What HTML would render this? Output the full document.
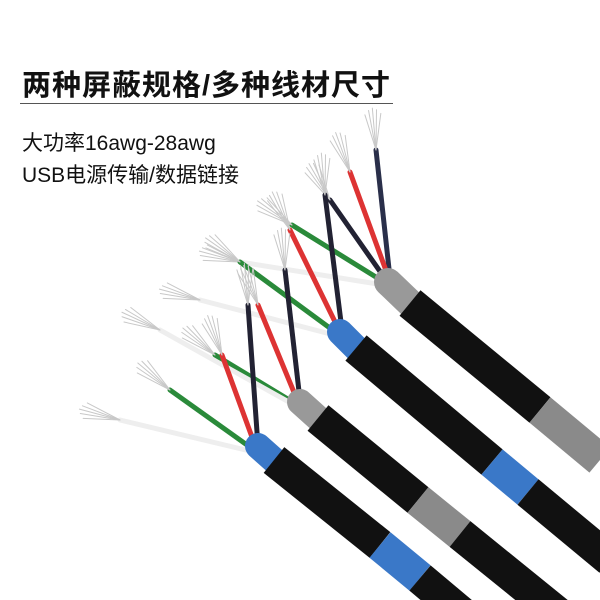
<!DOCTYPE html>
<html><head><meta charset="utf-8"><style>
body{margin:0;width:600px;height:600px;background:#fff;overflow:hidden;position:relative;font-family:"Liberation Sans","Noto Sans CJK SC",sans-serif}
.t{position:absolute;left:22px;color:#111;white-space:nowrap}
</style></head><body>
<svg width="600" height="600" style="position:absolute;left:0;top:0" stroke-linecap="round">
<defs>
<g id="tuft" stroke="#c8c8c8" stroke-width="1" fill="none">
<line x1="0" y1="0" x2="-4" y2="-40"/><line x1="0" y1="0" x2="0" y2="-42"/><line x1="0" y1="0" x2="4" y2="-40"/><line x1="0" y1="0" x2="-8" y2="-36"/><line x1="0" y1="0" x2="8" y2="-36"/>
</g>
</defs>
<g>
<path d="M390 278 L376 150" stroke="#2a2f4a" stroke-width="5"/>
<path d="M388 276 L350 172" stroke="#d33" stroke-width="5"/>
<path d="M386 280 L330 200" stroke="#223" stroke-width="5"/>
<path d="M384 282 L292 225" stroke="#2a8a3a" stroke-width="5"/>
<path d="M384 285 L240 262" stroke="#eee" stroke-width="5"/>
<use href="#tuft" transform="translate(376,150) rotate(-5)"/>
<use href="#tuft" transform="translate(350,172) rotate(-20)"/>
<use href="#tuft" transform="translate(330,200) rotate(-30)"/>
<use href="#tuft" transform="translate(292,225) rotate(-55)"/>
<use href="#tuft" transform="translate(240,262) rotate(-75)"/>
<path d="M388 282 L412 305" stroke="#999" stroke-width="28"/>
<path d="M410 303 L540 410" stroke="#111" stroke-width="33" stroke-linecap="butt"/>
<path d="M540 410 L600 460" stroke="#8a8a8a" stroke-width="33" stroke-linecap="butt"/>
</g>
<g>
<path d="M342 330 L325 195" stroke="#223" stroke-width="5"/>
<path d="M340 332 L290 230" stroke="#d33" stroke-width="5"/>
<path d="M338 334 L240 262" stroke="#2a8a3a" stroke-width="5"/>
<path d="M338 336 L200 300" stroke="#eee" stroke-width="5"/>
<use href="#tuft" transform="translate(325,195) rotate(-5)"/>
<use href="#tuft" transform="translate(290,230) rotate(-25)"/>
<use href="#tuft" transform="translate(240,262) rotate(-55)"/>
<use href="#tuft" transform="translate(200,300) rotate(-75)"/>
<path d="M340 332 L358 350" stroke="#3a78c8" stroke-width="26"/>
<path d="M356 348 L492 462" stroke="#111" stroke-width="33" stroke-linecap="butt"/>
<path d="M492 462 L528 492" stroke="#3a78c8" stroke-width="33" stroke-linecap="butt"/>
<path d="M528 492 L610 560" stroke="#111" stroke-width="33" stroke-linecap="butt"/>
</g>
<g>
<path d="M300 400 L285 270" stroke="#223" stroke-width="5"/>
<path d="M298 402 L258 305" stroke="#d33" stroke-width="5"/>
<path d="M296 404 L215 355" stroke="#2a8a3a" stroke-width="5"/>
<path d="M296 406 L160 330" stroke="#eee" stroke-width="5"/>
<use href="#tuft" transform="translate(285,270) rotate(-5)"/>
<use href="#tuft" transform="translate(258,305) rotate(-20)"/>
<use href="#tuft" transform="translate(215,355) rotate(-50)"/>
<use href="#tuft" transform="translate(160,330) rotate(-65)"/>
<path d="M300 402 L320 420" stroke="#999" stroke-width="26"/>
<path d="M318 418 L418 500" stroke="#111" stroke-width="33" stroke-linecap="butt"/>
<path d="M418 500 L460 534" stroke="#8a8a8a" stroke-width="33" stroke-linecap="butt"/>
<path d="M460 534 L560 615" stroke="#111" stroke-width="33" stroke-linecap="butt"/>
</g>
<g>
<path d="M258 446 L248 305" stroke="#223" stroke-width="5"/>
<path d="M256 448 L222 355" stroke="#d33" stroke-width="5"/>
<path d="M254 450 L170 390" stroke="#2a8a3a" stroke-width="5"/>
<path d="M254 452 L120 420" stroke="#eee" stroke-width="5"/>
<use href="#tuft" transform="translate(248,305) rotate(-5)"/>
<use href="#tuft" transform="translate(222,355) rotate(-20)"/>
<use href="#tuft" transform="translate(170,390) rotate(-50)"/>
<use href="#tuft" transform="translate(120,420) rotate(-75)"/>
<path d="M258 446 L276 462" stroke="#3a78c8" stroke-width="26"/>
<path d="M274 460 L380 545" stroke="#111" stroke-width="33" stroke-linecap="butt"/>
<path d="M380 545 L420 578" stroke="#3a78c8" stroke-width="33" stroke-linecap="butt"/>
<path d="M420 578 L470 620" stroke="#111" stroke-width="33" stroke-linecap="butt"/>
</g>
</svg>
<div class="t" style="top:62px;font-size:29px;font-weight:bold;letter-spacing:1px">两种屏蔽规格/多种线材尺寸</div>
<div style="position:absolute;left:20px;top:103px;width:373px;height:1px;background:#555"></div>
<div class="t" style="top:127px;font-size:21px">大功率16awg-28awg</div>
<div class="t" style="top:159px;font-size:21px">USB电源传输/数据链接</div>
</body></html>
